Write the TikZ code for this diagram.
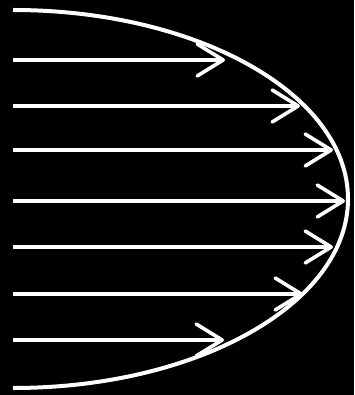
\documentclass[tikz,border=0pt]{standalone}
\usetikzlibrary{arrows.meta}
\begin{document}
\begin{tikzpicture}[x=1pt,y=-1pt,
  flow/.style={draw=white,line width=4pt,
    -{Straight Barb[length=26pt,width=32pt,line width=3.6pt,round]}},
  profile/.style={draw=white,line width=4pt}]
\fill[black] (0,0) rectangle (354,395);
\useasboundingbox (0,0) rectangle (354,395);
\coordinate (top) at (13,10);
\draw[profile] (top) arc[start angle=90,end angle=-90,x radius=335pt,y radius=189pt];
\foreach \i/\y/\x in {1/60/225,2/106/300,3/150/333,4/201/345,5/247/333,6/294/303,7/340/224}{
  \coordinate (s\i) at (13,\y);
  \coordinate (e\i) at (\x,\y);
  \draw[flow] (s\i) -- (e\i);
}
\end{tikzpicture}
\end{document}
